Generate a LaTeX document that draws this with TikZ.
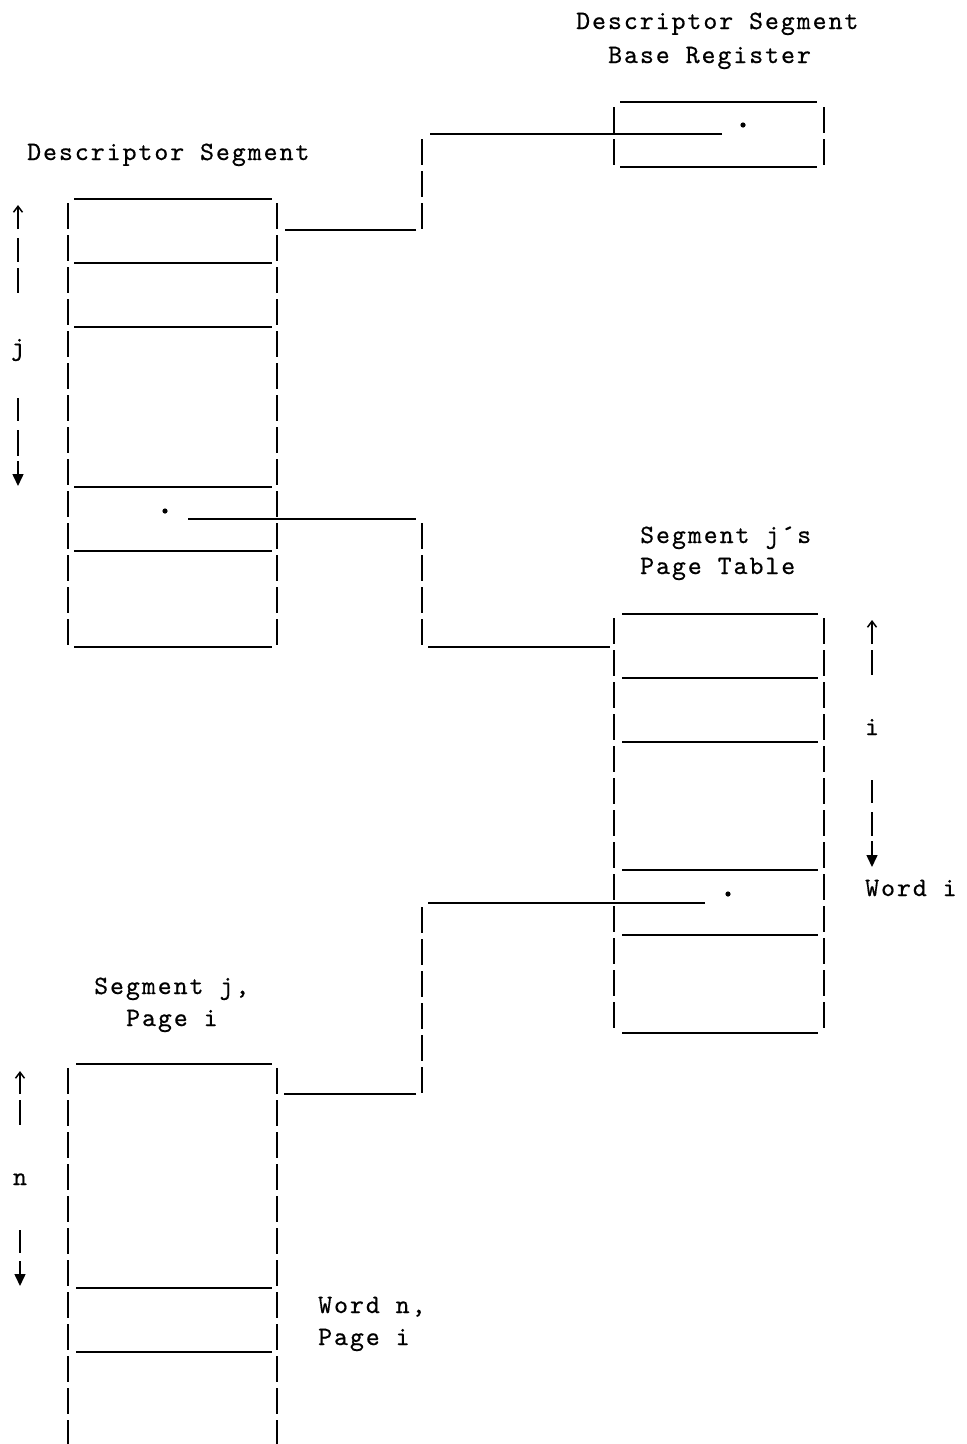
\documentclass[tikz,border=0pt]{standalone}
\usepackage{fontspec}
\newfontfamily\tw{lmmono10-regular.otf}[LetterSpace=7.5,FakeBold=0.6]
\usetikzlibrary{arrows.meta}
\begin{document}
\begin{tikzpicture}[x=1pt,y=-1pt,
  hl/.style={line width=1.6pt},
  vbar/.style={line width=1.6pt, dash pattern=on 26pt off 6pt},
  lbl/.style={anchor=base west, inner sep=0pt, font=\tw\fontsize{26.5}{32}\selectfont},
  idx/.style={anchor=base, inner sep=0pt, font=\tw\fontsize{26.5}{32}\selectfont},
  uparr/.style={line width=1.5pt, -{Straight Barb[length=6pt,width=9pt]}},
  dnarr/.style={line width=1.5pt, -{Triangle[length=12pt,width=11pt]}},
  dotc/.style={fill=black, draw=none},
]
\useasboundingbox (0,0) rectangle (967,1444);

% ---------- labels ----------
\node[lbl] (tDSBR1) at (576,29) {Descriptor Segment};
\node[lbl] (tDSBR2) at (608,63) {Base Register};
\node[lbl] (tDS) at (27,160) {Descriptor Segment};
\node[lbl] (tPT1) at (640,543) {Segment j´s};
\node[lbl] (tPT2) at (640,574) {Page Table};
\node[lbl] (tSP1) at (94,994) {Segment j,};
\node[lbl] (tSP2) at (126,1026) {Page i};
\node[lbl] (tWn1) at (318,1313) {Word n,};
\node[lbl] (tWn2) at (318,1345) {Page i};
\node[lbl] (tWi) at (865,896) {Word i};

% ---------- Descriptor Segment Base Register ----------
\foreach \y in {102,167} \draw[hl] (620,\y) -- (817,\y);
\draw[vbar] (614,107) -- (614,165);
\draw[vbar] (824,107) -- (824,165);
\fill[dotc] (743,125) circle (2.6pt) coordinate (dsbrdot);

% ---------- Descriptor Segment ----------
\foreach \y in {199,263,327,487,551,647} \draw[hl] (74,\y) -- (272,\y);
\draw[vbar] (68,203) -- (68,645);
\draw[vbar] (277,203) -- (277,645);
\fill[dotc] (165,511) circle (2.6pt) coordinate (dsdot);

% index j
\node[idx] (j) at (18,355) {j};
\draw[uparr] (18,229) -- (18,205);
\draw[hl] (18,238) -- (18,262);
\draw[hl] (18,268) -- (18,293);
\draw[hl] (18,398) -- (18,421);
\draw[hl] (18,430) -- (18,456);
\draw[dnarr] (18,461) -- (18,486);

% ---------- Segment j's Page Table ----------
\foreach \y in {614,678,742,870,935,1033} \draw[hl] (622,\y) -- (818,\y);
\draw[vbar] (614,618) -- (614,1030);
\draw[vbar] (824,618) -- (824,1030);
\fill[dotc] (728,894) circle (2.6pt) coordinate (ptdot);

% index i
\node[idx] (i) at (872,735) {i};
\draw[uparr] (872,644) -- (872,620);
\draw[hl] (872,650) -- (872,675);
\draw[hl] (872,780) -- (872,803);
\draw[hl] (872,812) -- (872,836);
\draw[dnarr] (872,841) -- (872,867);

% ---------- Segment j, Page i ----------
\foreach \y in {1064,1288,1352} \draw[hl] (76,\y) -- (272,\y);
\draw[vbar] (68,1068) -- (68,1450);
\draw[vbar] (277,1068) -- (277,1450);

% index n
\node[idx] (n) at (20,1185) {n};
\draw[uparr] (20,1094) -- (20,1071);
\draw[hl] (20,1100) -- (20,1125);
\draw[hl] (20,1230) -- (20,1253);
\draw[dnarr] (20,1261) -- (20,1286);

% ---------- connectors ----------
% DSBR -> Descriptor Segment
\coordinate (c1a) at (722,134);
\coordinate (c1b) at (430,134);
\coordinate (c1c) at (422,139);
\coordinate (c1d) at (422,229);
\coordinate (c1e) at (416,230);
\coordinate (c1f) at (285,230);
\draw[hl] (c1a) -- (c1b);
\draw[vbar] (c1c) -- (c1d);
\draw[hl] (c1e) -- (c1f);

% Descriptor Segment word j -> Page Table
\coordinate (c2a) at (188,519);
\coordinate (c2b) at (416,519);
\coordinate (c2c) at (422,523);
\coordinate (c2d) at (422,645);
\coordinate (c2e) at (428,647);
\coordinate (c2f) at (610,647);
\draw[hl] (c2a) -- (c2b);
\draw[vbar] (c2c) -- (c2d);
\draw[hl] (c2e) -- (c2f);

% Page Table word i -> Segment j, Page i
\coordinate (c3a) at (705,903);
\coordinate (c3b) at (428,903);
\coordinate (c3c) at (422,907);
\coordinate (c3d) at (422,1093);
\coordinate (c3e) at (416,1094);
\coordinate (c3f) at (284,1094);
\draw[hl] (c3a) -- (c3b);
\draw[vbar] (c3c) -- (c3d);
\draw[hl] (c3e) -- (c3f);
\end{tikzpicture}
\end{document}
